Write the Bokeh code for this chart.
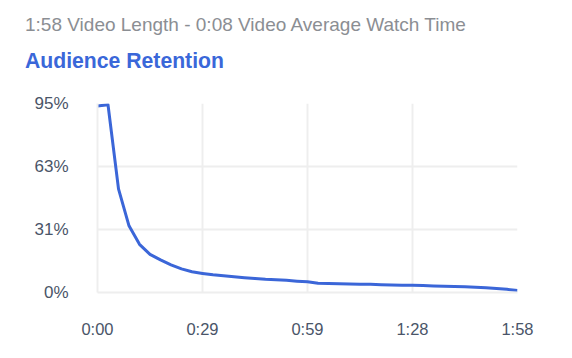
from bokeh.plotting import figure
from bokeh.models import Range1d, FixedTicker, Div
from bokeh.layouts import column
from bokeh.embed import file_html
from bokeh.resources import INLINE

# Data (seconds into video, audience retention %)
video_length = 118
n_points = 41
retention = [93.8, 94.4, 52.1, 33.5, 24.2, 19.2, 16.4, 13.9, 11.9, 10.4,
             9.6, 8.9, 8.4, 7.9, 7.4, 7.0, 6.6, 6.4, 6.1, 5.7,
             5.4, 4.6, 4.5, 4.4, 4.3, 4.2, 4.1, 3.9, 3.8, 3.7,
             3.6, 3.5, 3.3, 3.2, 3.0, 2.9, 2.7, 2.4, 2.0, 1.6, 1.0]
seconds = [i * video_length / (n_points - 1) for i in range(n_points)]

x_ticks = [0, 29.5, 59, 88.5, 118]
x_tick_labels = ["0:00", "0:29", "0:59", "1:28", "1:58"]
y_ticks = [0, 95 / 3, 2 * 95 / 3, 95]
y_tick_labels = ["0%", "31%", "63%", "95%"]

subtitle = "1:58 Video Length - 0:08 Video Average Watch Time"
title = "Audience Retention"

FONT = "Liberation Sans"
W = 570
HEAD = 80

head = Div(
    text=(
        f'<div style="position:relative;width:{W}px;height:{HEAD}px;font-family:\'{FONT}\';">'
        f'<div style="position:absolute;left:25px;top:14px;font-size:19px;line-height:22px;'
        f'color:#8b8e93;white-space:nowrap;">{subtitle}</div>'
        f'<div style="position:absolute;left:25px;top:49px;font-size:21.2px;line-height:24px;'
        f'font-weight:bold;color:#3a67d9;white-space:nowrap;">{title}</div>'
        f'</div>'
    ),
    width=W, height=HEAD, margin=(0, 0, 0, 0),
)

p = figure(width=W, height=276, output_backend="svg", toolbar_location=None,
           x_range=Range1d(0, video_length), y_range=Range1d(0, 95),
           min_border_left=97, min_border_right=53, min_border_top=23,
           min_border_bottom=64, margin=(0, 0, 0, 0))
p.outline_line_color = None
p.background_fill_color = "white"
p.border_fill_color = "white"

p.line(seconds, retention, line_color="#3b66d8", line_width=3, line_join="round")

for ax, ticks, labels in ((p.xaxis[0], x_ticks, x_tick_labels),
                          (p.yaxis[0], y_ticks, y_tick_labels)):
    ax.ticker = FixedTicker(ticks=ticks)
    ax.major_label_overrides = {t: l for t, l in zip(ticks, labels)}
    ax.axis_line_color = "#eeeeee"
    ax.axis_line_width = 2
    ax.major_tick_line_color = None
    ax.minor_tick_line_color = None
    ax.major_label_text_font = FONT
    ax.major_label_text_color = "#4a5568"

p.xaxis[0].major_label_text_font_size = "16.5px"
p.yaxis[0].major_label_text_font_size = "17px"
p.xaxis[0].major_label_standoff = 21
p.yaxis[0].major_label_standoff = 23

p.xgrid.ticker = FixedTicker(ticks=x_ticks)
p.ygrid.ticker = FixedTicker(ticks=y_ticks)
p.grid.grid_line_color = "#eeeeee"
p.grid.grid_line_width = 2

layout = column(head, p, spacing=0, margin=(0, 0, 0, 0))

open("out.html", "w").write(file_html(layout, INLINE))
